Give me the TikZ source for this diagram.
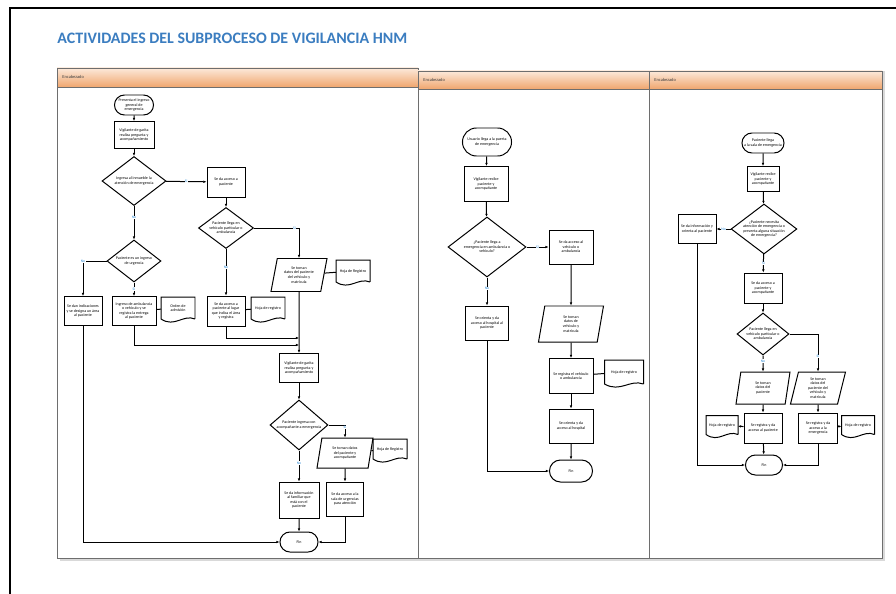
\documentclass[tikz,border=0pt]{standalone}
\usepackage{fontspec}
\setmainfont{Carlito}
\usetikzlibrary{shapes.geometric,shapes.misc,arrows.meta,calc}
\definecolor{titleblue}{HTML}{3B7DC0}
\definecolor{headtop}{HTML}{FCE9DA}
\definecolor{headbot}{HTML}{F0A66E}
\definecolor{lanegray}{HTML}{6E6E6E}
\definecolor{labelblue}{HTML}{2E8BD6}
\newcommand{\nodefont}{\fontsize{3.4}{3.9}\selectfont}

\begin{document}
\begin{tikzpicture}[x=0.03cm,y=-0.03cm,line width=0.85pt,>={Latex[length=2.6pt,width=2.2pt]},
    sz/.style 2 args={minimum width=#1*0.03cm,minimum height=#2*0.03cm},
    proc node/.style={rectangle,draw,inner sep=0.4pt,align=center,font=\nodefont},
    dec node/.style={diamond,draw,aspect=1.4,inner sep=0pt,align=center,font=\nodefont},
    term node/.style={rounded rectangle,draw,inner sep=0.4pt,align=center,font=\nodefont},
    data node/.style={trapezium,trapezium left angle=70,trapezium right angle=110,trapezium stretches body,draw,inner sep=0.4pt,align=center,font=\nodefont},
    doc node/.style={rectangle,inner sep=0.4pt,align=center,font=\nodefont},
    lbl/.style={font=\fontsize{3.2}{3.2}\selectfont,text=labelblue,fill=white,inner sep=0.4pt},
    head/.style={anchor=west,font=\fontsize{3.8}{4}\selectfont,text=black!75}]
    \useasboundingbox (0,0) rectangle (896,594);
    \fill[white] (0,0) rectangle (896,594);
    \draw[line width=1.8pt] (10,594) -- (10,8) -- (896,8);

    \node[anchor=west,font=\fontsize{13.6}{15}\selectfont\bfseries,text=titleblue,inner sep=0pt] at (57,38) (title) {ACTIVIDADES DEL SUBPROCESO DE VIGILANCIA HNM};

    % lanes
    \fill[black!15] (60,71) rectangle (885,561);
    \foreach \xa/\xb/\yt/\yh in {57/418/68/87, 418/649/71/89, 649/882/71/89} {
        \fill[white] (\xa,\yh) rectangle (\xb,558);
        \shade[top color=headtop,bottom color=headbot] (\xa,\yt) rectangle (\xb,\yh);
        \draw[lanegray,line width=0.8pt] (\xa,\yt) rectangle (\xb,558);
        \draw[lanegray,line width=0.8pt] (\xa,\yh) -- (\xb,\yh);
    }
    \node[head] at (58,77) (h1) {Encabezado};
    \node[head] at (419,80) (h2) {Encabezado};
    \node[head] at (650,80) (h3) {Encabezado};

    % first lane
    \node[term node,sz={40}{20}] at (134,105) (start1) {Presenta el ingreso\\general de\\emergencia};
    \node[proc node,sz={40}{27}] at (134,135) (act1) {Vigilante de garita\\realiza pregunta y\\acompañamiento};
    \node[dec node,sz={64}{49}] at (134,181) (dec1) {Ingresa al inmueble la\\atención de emergencia};
    \node[proc node,sz={38}{30}] at (226,182) (act2) {Se da acceso a\\paciente};
    \node[dec node,sz={54}{42}] at (134,261) (dec2) {Paciente es un ingreso\\de urgencia};
    \node[proc node,sz={38}{29}] at (83,311) (box4) {Se dan indicaciones\\y se designa un área\\al paciente};
    \node[proc node,sz={44}{29}] at (134,311) (box5) {Ingreso de ambulancia\\o vehículo y se\\registra la entrega\\al paciente};
    \node[doc node,sz={33}{21}] at (178,308) (doc5) {Orden de\\admisión};
    \node[dec node,sz={55}{41}] at (226,228) (dec3) {Paciente llega en\\vehículo particular o\\ambulancia};
    \node[data node,sz={56}{33}] at (299,275) (data1) {Se toman\\datos del paciente\\del vehículo y\\matrícula};
    \node[doc node,sz={33}{21}] at (353,271) (doc1) {Hoja de Registro};
    \node[proc node,sz={38}{30}] at (226,311) (box6) {Se da acceso a\\paciente al lugar\\que indica el área\\y registra};
    \node[doc node,sz={33}{21}] at (268,308) (doc6) {Hoja de registro};
    \node[proc node,sz={39}{29}] at (299,368) (act3) {Vigilante de garita\\realiza pregunta y\\acompañamiento};
    \node[dec node,sz={58}{50}] at (299,425) (dec4) {Paciente ingresa con\\acompañante a emergencia};
    \node[data node,sz={56}{30}] at (345,453) (data2) {Se toman datos\\del paciente y\\acompañante};
    \node[doc node,sz={33}{19}] at (390,449) (doc2) {Hoja de Registro};
    \node[proc node,sz={40}{36}] at (299,500) (box7) {Se da información\\al familiar que\\está con el\\paciente};
    \node[proc node,sz={37}{34}] at (345,499) (box8) {Se da acceso a la\\sala de urgencias\\para atención};
    \node[term node,sz={39}{20}] at (299,542) (end1) {Fin};
    \coordinate (j1) at (299,338);
    \coordinate (j2) at (299,345);

    % second lane
    \node[term node,sz={50}{28}] at (487,142) (start2) {Usuario llega a la puerta\\de emergencia};
    \node[proc node,sz={44}{35}] at (486,184) (act21) {Vigilante recibe\\paciente y\\acompañante};
    \node[dec node,sz={78}{60}] at (487,247) (dec21) {¿Paciente llega a\\emergencia en ambulancia o\\vehículo?};
    \node[proc node,sz={44}{34}] at (571,247) (box22) {Se da acceso al\\vehículo o\\ambulancia};
    \node[proc node,sz={43}{34}] at (487,323) (box23) {Se orienta y da\\acceso al hospital al\\paciente};
    \node[data node,sz={65}{36}] at (571,324) (data21) {Se toman\\datos de\\vehículo y\\matrícula};
    \node[proc node,sz={44}{35}] at (571,376) (box24) {Se registra el vehículo\\o ambulancia};
    \node[doc node,sz={38}{23}] at (624,372) (doc24) {Hoja de registro};
    \node[proc node,sz={44}{34}] at (571,426) (box25) {Se orienta y da\\acceso al hospital};
    \node[term node,sz={44}{22}] at (571,471) (end2) {Fin};

    % third lane
    \node[term node,sz={43}{20}] at (763,143) (start3) {Paciente llega\\a la sala de emergencia};
    \node[proc node,sz={32}{25}] at (763,179) (act31) {Vigilante recibe\\paciente y\\acompañante};
    \node[dec node,sz={62}{50}] at (764,229) (dec31) {¿Paciente necesita\\atención de emergencia o\\presenta alguna situación\\de emergencia?};
    \node[proc node,sz={38}{29}] at (697,229) (box32) {Se da información y\\orienta al paciente};
    \node[proc node,sz={38}{30}] at (763,288) (box33) {Se da acceso a\\paciente y\\acompañante};
    \node[dec node,sz={52}{42}] at (763,334) (dec32) {Paciente llega en\\vehículo particular o\\ambulancia};
    \node[data node,sz={54}{32}] at (763,388) (data31) {Se toman\\datos del\\paciente};
    \node[data node,sz={55}{32}] at (818,388) (data32) {Se toman\\datos del\\paciente del\\vehículo y\\matrícula};
    \node[proc node,sz={38}{30}] at (763,428) (box34) {Se registra y da\\acceso al paciente};
    \node[doc node,sz={31}{18}] at (722,425) (doc34) {Hoja de registro};
    \node[proc node,sz={39}{30}] at (818,428) (box35) {Se registra y da\\acceso a la\\emergencia};
    \node[doc node,sz={32}{18}] at (858,425) (doc35) {Hoja de registro};
    \node[term node,sz={38}{20}] at (764,465) (end3) {Fin};

    % document outlines with wavy bottom
    \foreach \d in {doc5,doc1,doc6,doc2,doc24,doc34,doc35}
        \draw (\d.south east) -- (\d.north east) -- (\d.north west) -- (\d.south west)
            .. controls ($(\d.south west)!0.4!(\d.south east)+(0,9)$) and ($(\d.south west)!0.65!(\d.south east)+(0,-5)$) .. (\d.south east);

    \path[->]
        (start1) edge (act1)
        (act1) edge (dec1)
        (dec1) edge node[lbl] {Si} (act2)
        (dec1) edge node[lbl,pos=0.35] {No} (dec2)
        (dec2) edge node[lbl] {Si} (box5)
        (act2) edge (dec3)
        (dec3) edge node[lbl,pos=0.4] {No} (box6)
        (data1) edge (act3)
        (act3) edge (dec4)
        (dec4) edge node[lbl,pos=0.4] {No} (box7)
        (data2) edge (box8)
        (box7) edge (end1)
        (start2) edge (act21)
        (act21) edge (dec21)
        (dec21) edge node[lbl] {Si} (box22)
        (dec21) edge node[lbl,pos=0.4] {No} (box23)
        (box22) edge (data21)
        (data21) edge (box24)
        (box24) edge (box25)
        (box25) edge (end2)
        (start3) edge (act31)
        (act31) edge (dec31)
        (dec31) edge node[lbl] {No} (box32)
        (dec31) edge node[lbl] {Si} (box33)
        (box33) edge (dec32)
        (dec32) edge node[lbl,pos=0.35] {No} (data31)
        (data31) edge (box34)
        (data32) edge (box35)
        (box34) edge (doc34)
        (box35) edge (doc35)
        (box34) edge (end3);
    \path
        (box5) edge (doc5)
        (data1) edge (doc1)
        (box6) edge (doc6)
        (data2) edge (doc2)
        (box24) edge (doc24);

    \draw[->] (dec2.west) -| node[lbl] {No} (box4.north);
    \draw[->] (dec3.east) -| node[lbl,pos=0.45] {Si} (data1.north);
    \draw[->] (dec4.east) -| node[lbl,pos=0.6] {Si} (data2.north);
    \draw[->] (dec32.east) -| node[lbl,pos=0.8] {Si} (data32.north);
    \draw[->] (box6.south) |- (j1);
    \draw[->] (box5.south) |- (j2);
    \draw[->] (box4.south) |- (end1.west);
    \draw[->] (box8.south) |- (end1.east);
    \draw[->] (box23.south) |- (end2.west);
    \draw[->] (box32.south) |- (end3.west);
    \draw[->] (box35.south) |- (end3.east);
\end{tikzpicture}
\end{document}
